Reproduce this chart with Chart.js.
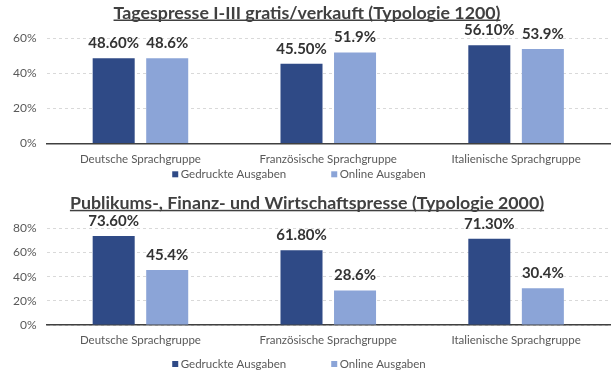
<!DOCTYPE html>
<html>
<head>
<meta charset="utf-8">
<script src="https://cdn.jsdelivr.net/npm/chart.js@4.4.1/dist/chart.umd.min.js"></script>
<style>
  html, body { margin: 0; padding: 0; background: #fff; }
  body { width: 616px; height: 373px; overflow: hidden; position: relative; }
  .box { position: absolute; left: 0; width: 616px; }
  #box1 { top: 0; height: 186px; }
  #box2 { top: 186px; height: 187px; }
</style>
</head>
<body>
<div class="box" id="box1"><canvas id="chart1"></canvas></div>
<div class="box" id="box2"><canvas id="chart2"></canvas></div>
<script>
// data
const categories = ['Deutsche Sprachgruppe', 'Französische Sprachgruppe', 'Italienische Sprachgruppe'];
const seriesNames = ['Gedruckte Ausgaben', 'Online Ausgaben'];
const seriesColors = ['#2F4A86', '#8BA4D7'];
const labelDecimals = [2, 1];

const title1 = 'Tagespresse I-III gratis/verkauft (Typologie 1200)';
const print1 = [48.6, 45.5, 56.1];
const online1 = [48.6, 51.9, 53.9];
const ticks1 = [0, 20, 40, 60];

const title2 = 'Publikums-, Finanz- und Wirtschaftspresse (Typologie 2000)';
const print2 = [73.6, 61.8, 71.3];
const online2 = [45.4, 28.6, 30.4];
const ticks2 = [0, 20, 40, 60, 80];

Chart.defaults.font.family = 'Lato, "Open Sans", sans-serif';
Chart.defaults.color = '#595959';

// underlined heading above the plot
const headline = {
    id: 'headline',
    afterDraw(chart, args, opts) {
        const ctx = chart.ctx;
        ctx.save();
        ctx.font = 'bold 17.8px Lato';
        ctx.fillStyle = '#404040';
        ctx.textAlign = 'center';
        ctx.textBaseline = 'alphabetic';
        const x = chart.width / 2 - 1;
        ctx.fillText(opts.text, x, opts.baseline);
        const w = ctx.measureText(opts.text).width;
        ctx.fillRect(x - w / 2, opts.baseline + 1, w, 1.5);
        ctx.restore();
    }
};

// value labels over the bars
const barValues = {
    id: 'barValues',
    afterDatasetsDraw(chart) {
        const ctx = chart.ctx;
        ctx.save();
        ctx.font = 'bold 15px Lato';
        ctx.fillStyle = '#333333';
        ctx.textAlign = 'center';
        ctx.textBaseline = 'middle';
        chart.data.datasets.forEach((ds, i) => {
            chart.getDatasetMeta(i).data.forEach((bar, j) => {
                ctx.fillText(ds.data[j].toFixed(labelDecimals[i]) + '%', bar.x, bar.y - 15);
            });
        });
        ctx.restore();
    }
};

// legend row below the category labels
const legendRow = {
    id: 'legendRow',
    afterDraw(chart, args, opts) {
        const ctx = chart.ctx;
        ctx.save();
        ctx.font = '11.5px Lato';
        ctx.textBaseline = 'middle';
        const box = 6, boxGap = 2.5, itemGap = 45;
        const items = chart.data.datasets.map(ds => ({
            text: ds.label, color: ds.backgroundColor, w: ctx.measureText(ds.label).width
        }));
        const total = items.reduce((s, it) => s + box + boxGap + it.w, 0) + itemGap * (items.length - 1);
        let x = opts.center - total / 2;
        items.forEach(it => {
            ctx.fillStyle = it.color;
            ctx.fillRect(x, opts.y - box / 2, box, box);
            ctx.fillStyle = '#595959';
            ctx.fillText(it.text, x + box + boxGap, opts.y);
            x += box + boxGap + it.w + itemGap;
        });
        ctx.restore();
    }
};

function makeChart(id, title, printData, onlineData, tickValues, cfg) {
    new Chart(document.getElementById(id), {
        type: 'bar',
        data: {
            labels: categories,
            datasets: [
                { label: seriesNames[0], data: printData, backgroundColor: seriesColors[0] },
                { label: seriesNames[1], data: onlineData, backgroundColor: seriesColors[1] }
            ]
        },
        options: {
            responsive: true,
            maintainAspectRatio: false,
            animation: false,
            categoryPercentage: 0.57,
            barPercentage: 0.785,
            layout: { padding: { top: cfg.top, left: 3, right: 6, bottom: cfg.bottom } },
            scales: {
                x: {
                    grid: { display: false, drawTicks: false },
                    border: { display: true, color: '#404040', width: 1.5 },
                    ticks: { font: { size: 11.5 }, padding: cfg.xPad, color: '#595959' }
                },
                y: {
                    min: tickValues[0],
                    max: tickValues[tickValues.length - 1],
                    grid: { color: '#D9D9D9', drawTicks: false },
                    border: { display: false, dash: [3, 3] },
                    ticks: {
                        stepSize: tickValues[1] - tickValues[0],
                        padding: 10,
                        font: { size: 12 },
                        color: '#595959',
                        callback: v => v + '%'
                    }
                }
            },
            plugins: {
                legend: { display: false },
                tooltip: { enabled: false },
                headline: { text: title, baseline: cfg.titleBase },
                legendRow: { center: 299, y: cfg.legendY }
            }
        },
        plugins: [headline, barValues, legendRow]
    });
}

makeChart('chart1', title1, print1, online1, ticks1,
    { top: 38.3, bottom: 10.4, xPad: 9.1, titleBase: 18.5, legendY: 174.3 });
makeChart('chart2', title2, print2, online2, ticks2,
    { top: 42.3, bottom: 17.4, xPad: 8.4, titleBase: 22.8, legendY: 178 });
</script>
</body>
</html>
